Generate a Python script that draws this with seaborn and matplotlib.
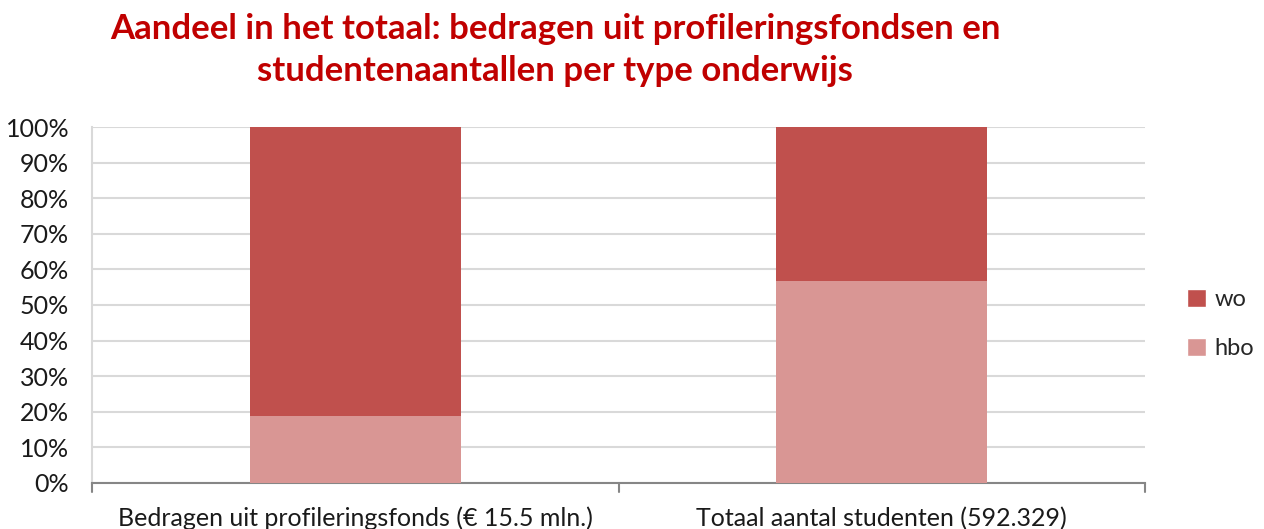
import matplotlib
matplotlib.use("Agg")
import matplotlib.pyplot as plt
import seaborn as sns
import pandas as pd
from matplotlib.patches import Patch
from matplotlib.ticker import PercentFormatter

categories = ["Bedragen uit profileringsfonds (€ 15.5 mln.)", "Totaal aantal studenten (592.329)"]
hbo = [18.7, 56.7]
wo = [81.3, 43.3]
series_names = ["wo", "hbo"]
title = "Aandeel in het totaal: bedragen uit profileringsfondsen en\nstudentenaantallen per type onderwijs"

WO_C = "#C0504D"
HBO_C = "#D99694"

sns.set_theme(style="white")
plt.rcParams['font.family'] = ['Lato', 'DejaVu Sans']

df = pd.DataFrame({"cat": categories, "hbo": hbo, "wo": wo})
df["total"] = df["hbo"] + df["wo"]

fig = plt.figure(figsize=(12.64, 5.29), dpi=100)
ax = fig.add_axes([92/1264, 46/529, (1145-92)/1264, (483-127)/529])

sns.barplot(data=df, x="cat", y="total", color=WO_C, width=0.4, ax=ax, saturation=1,
            zorder=2, linewidth=0)
sns.barplot(data=df, x="cat", y="hbo", color=HBO_C, width=0.4, ax=ax, saturation=1,
            zorder=3, linewidth=0)

ax.set_xlim(-0.5, 1.5)
ax.set_ylim(0, 100)
ax.set_yticks(range(0, 101, 10))
ax.yaxis.set_major_formatter(PercentFormatter(decimals=0))
ax.set_xlabel("")
ax.set_ylabel("")
ax.yaxis.grid(True, color="#D9D9D9", linewidth=1.5, zorder=0)
ax.set_axisbelow(True)

for s in ["top", "right"]:
    ax.spines[s].set_visible(False)
ax.spines["left"].set_color("#D9D9D9")
ax.spines["left"].set_linewidth(1.5)
ax.spines["bottom"].set_color("#868686")
ax.spines["bottom"].set_linewidth(1.5)

ax.tick_params(axis="y", length=6.5, width=1.5, color="#D9D9D9", pad=10, labelsize=18, labelcolor="#1a1a1a")
ax.set_xticks([0, 1])
ax.set_xticklabels(categories)
ax.tick_params(axis="x", length=0, pad=17, labelsize=18, labelcolor="#1a1a1a")
for xb in [-0.5, 0.5, 1.5]:
    ax.plot([xb, xb], [0, -2.6], color="#868686", linewidth=1.5, clip_on=False, zorder=4)

handles = [Patch(facecolor=WO_C, label="wo"), Patch(facecolor=HBO_C, label="hbo")]
fig.legend(handles=handles, loc="center left", bbox_to_anchor=(1187/1264, 1 - 324/529),
           frameon=False, fontsize=17, handlelength=0.8, handleheight=0.8,
           handletextpad=0.35, labelspacing=1.2, borderaxespad=0, borderpad=0)

fig.text(555/1264, 1 - 50/529, title, ha="center", va="center", fontsize=25,
         fontweight="bold", color="#C00000", linespacing=1.35)

fig.savefig("out.png", dpi=100)
